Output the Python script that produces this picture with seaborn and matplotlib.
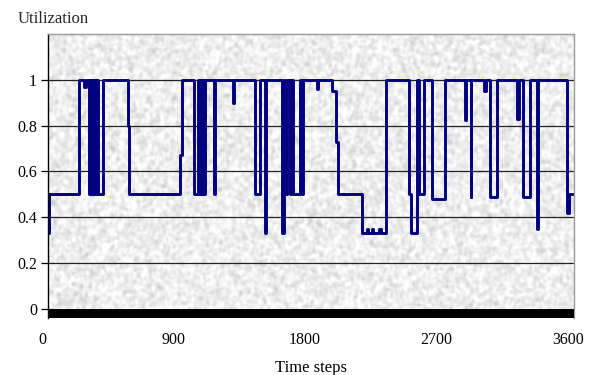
import numpy as np
import pandas as pd
import matplotlib
matplotlib.use("Agg")
import matplotlib.pyplot as plt
import matplotlib.transforms as mtransforms
import seaborn as sns

# step-wise utilization trace (time step where the level starts, level)
time_steps = [0, 4, 214, 246, 258, 283, 289, 295, 301, 307, 313, 319, 325, 331, 337, 343,
              378, 550, 554, 903, 920, 996, 1025, 1031, 1037, 1043, 1049, 1055, 1061, 1067,
              1073, 1133, 1146, 1263, 1270, 1417, 1448, 1485, 1495, 1602, 1615, 1620, 1634,
              1656, 1666, 1677, 1722, 1735, 1745, 1844, 1851, 1944, 1974, 1987, 2151, 2183,
              2192, 2217, 2226, 2265, 2276, 2311, 2473, 2481, 2523, 2537, 2571, 2628, 2719,
              2857, 2864, 2892, 2898, 2984, 2998, 3025, 3071, 3212, 3226, 3249, 3299, 3345,
              3352, 3554, 3569, 3600]
utilization = [0.333, 0.5, 1.0, 0.97, 1.0, 0.5, 1.0, 0.5, 1.0, 0.5, 1.0, 0.5, 1.0, 0.5, 1.0, 0.5,
               1.0, 0.8, 0.5, 0.67, 1.0, 0.5, 1.0, 0.5, 1.0, 0.5, 1.0, 0.5, 1.0, 0.5,
               1.0, 0.5, 1.0, 0.9, 1.0, 0.5, 1.0, 0.333, 1.0, 0.333, 1.0, 0.5, 1.0,
               0.5, 1.0, 0.5, 1.0, 0.5, 1.0, 0.96, 1.0, 0.95, 0.73, 0.5, 0.333, 0.35,
               0.333, 0.35, 0.333, 0.35, 0.333, 1.0, 0.5, 0.333, 1.0, 0.5, 1.0, 0.48, 1.0,
               0.825, 1.0, 0.49, 1.0, 0.95, 1.0, 0.49, 1.0, 0.83, 1.0, 0.49, 1.0, 0.35,
               1.0, 0.42, 0.5, 0.5]

x_ticks = [0, 900, 1800, 2700, 3600]
y_ticks = [0, 0.2, 0.4, 0.6, 0.8, 1.0]
y_labels = ["0", "0.2", "0.4", "0.6", "0.8", "1"]

df = pd.DataFrame({"t": time_steps, "u": utilization})

sns.set_theme(style="white")
plt.rcParams["font.family"] = ["Liberation Serif", "DejaVu Serif"]

fig = plt.figure(figsize=(5.95, 3.75), dpi=100)
ax = fig.add_axes([48 / 595, 1 - 318 / 375, 526 / 595, (318 - 34) / 375])

y_lo, y_hi = -0.04, 1.2

# granite-like background texture
rng = np.random.default_rng(7)
tex = rng.normal(size=(200, 420))
for _ in range(2):
    tex = (tex + np.roll(tex, 1, 0) + np.roll(tex, -1, 0) + np.roll(tex, 1, 1) + np.roll(tex, -1, 1)) / 5
tex = 0.935 + 0.04 * tex / tex.std()
ax.imshow(tex, cmap="gray", vmin=0, vmax=1, extent=(0, 3600, y_lo, y_hi),
          aspect="auto", interpolation="bilinear", zorder=0)

for yv in y_ticks[1:]:
    ax.axhline(yv, color="#222222", lw=0.9, zorder=1)
ax.axhspan(y_lo, 0, color="black", zorder=3, lw=0)

sns.lineplot(data=df, x="t", y="u", ax=ax, drawstyle="steps-post", color="#000080",
             lw=2.1, estimator=None, sort=False, zorder=2)

ax.set_xlim(0, 3600)
ax.set_ylim(y_lo, y_hi)
ax.set_xticks(x_ticks)
ax.set_xticklabels([str(v) for v in x_ticks])
ax.set_yticks(y_ticks)
ax.set_yticklabels(y_labels)
ax.tick_params(axis="x", length=0, pad=10, labelsize=11.5, colors="black")
ax.tick_params(axis="y", length=5, width=0.9, direction="out", pad=3, labelsize=11.5,
               colors="black", left=True)
for lab in ax.get_xticklabels():
    lab.set_transform(lab.get_transform() + mtransforms.ScaledTranslation(-6 / 100, 0, fig.dpi_scale_trans))

ax.set_xlabel("Time steps", fontsize=12, labelpad=9, color="black")
ax.set_ylabel("")
fig.text(18 / 595, 1 - 19 / 375, "Utilization", fontsize=12, ha="left", va="center")

ax.spines["left"].set_color("black")
ax.spines["left"].set_linewidth(1.0)
for s in ("top", "right"):
    ax.spines[s].set_color("#9a9a9a")
    ax.spines[s].set_linewidth(1.0)
ax.spines["bottom"].set_visible(False)
ax.grid(False)

fig.savefig("out.png", dpi=100)
